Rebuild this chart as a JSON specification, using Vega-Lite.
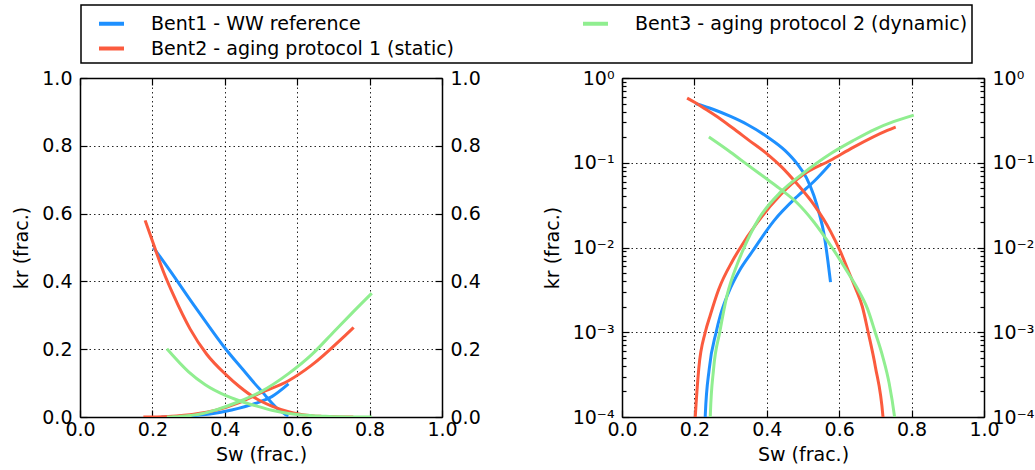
{
  "$schema": "https://vega.github.io/schema/vega-lite/v6.json",
  "background": "white",
  "padding": {"left": 12, "top": 4, "right": 2, "bottom": 2},
  "spacing": 180,
  "bounds": "flush",
  "resolve": {"scale": {"color": "independent"}},
  "datasets": {
    "kr": [
      {"bent": "Bent1 - WW reference", "phase": "o", "sw": 0.203, "kr": 0.50},
      {"bent": "Bent1 - WW reference", "phase": "o", "sw": 0.253, "kr": 0.425},
      {"bent": "Bent1 - WW reference", "phase": "o", "sw": 0.30, "kr": 0.352},
      {"bent": "Bent1 - WW reference", "phase": "o", "sw": 0.346, "kr": 0.283},
      {"bent": "Bent1 - WW reference", "phase": "o", "sw": 0.403, "kr": 0.20},
      {"bent": "Bent1 - WW reference", "phase": "o", "sw": 0.45, "kr": 0.14},
      {"bent": "Bent1 - WW reference", "phase": "o", "sw": 0.484, "kr": 0.097},
      {"bent": "Bent1 - WW reference", "phase": "o", "sw": 0.51, "kr": 0.066},
      {"bent": "Bent1 - WW reference", "phase": "o", "sw": 0.53, "kr": 0.041},
      {"bent": "Bent1 - WW reference", "phase": "o", "sw": 0.545, "kr": 0.025},
      {"bent": "Bent1 - WW reference", "phase": "o", "sw": 0.557, "kr": 0.0152},
      {"bent": "Bent1 - WW reference", "phase": "o", "sw": 0.567, "kr": 0.0079},
      {"bent": "Bent1 - WW reference", "phase": "o", "sw": 0.576, "kr": 0.0039},
      {"bent": "Bent1 - WW reference", "phase": "w", "sw": 0.225, "kr": 0.0000001},
      {"bent": "Bent1 - WW reference", "phase": "w", "sw": 0.230, "kr": 0.000105},
      {"bent": "Bent1 - WW reference", "phase": "w", "sw": 0.241, "kr": 0.00037},
      {"bent": "Bent1 - WW reference", "phase": "w", "sw": 0.26, "kr": 0.001},
      {"bent": "Bent1 - WW reference", "phase": "w", "sw": 0.272, "kr": 0.0016},
      {"bent": "Bent1 - WW reference", "phase": "w", "sw": 0.295, "kr": 0.003},
      {"bent": "Bent1 - WW reference", "phase": "w", "sw": 0.325, "kr": 0.0054},
      {"bent": "Bent1 - WW reference", "phase": "w", "sw": 0.359, "kr": 0.00885},
      {"bent": "Bent1 - WW reference", "phase": "w", "sw": 0.419, "kr": 0.0205},
      {"bent": "Bent1 - WW reference", "phase": "w", "sw": 0.484, "kr": 0.04},
      {"bent": "Bent1 - WW reference", "phase": "w", "sw": 0.53, "kr": 0.06},
      {"bent": "Bent1 - WW reference", "phase": "w", "sw": 0.576, "kr": 0.0975},
      {"bent": "Bent2 - aging protocol 1 (static)", "phase": "o", "sw": 0.18, "kr": 0.58},
      {"bent": "Bent2 - aging protocol 1 (static)", "phase": "o", "sw": 0.203, "kr": 0.51},
      {"bent": "Bent2 - aging protocol 1 (static)", "phase": "o", "sw": 0.23, "kr": 0.43},
      {"bent": "Bent2 - aging protocol 1 (static)", "phase": "o", "sw": 0.258, "kr": 0.36},
      {"bent": "Bent2 - aging protocol 1 (static)", "phase": "o", "sw": 0.304, "kr": 0.26},
      {"bent": "Bent2 - aging protocol 1 (static)", "phase": "o", "sw": 0.35, "kr": 0.185},
      {"bent": "Bent2 - aging protocol 1 (static)", "phase": "o", "sw": 0.403, "kr": 0.125},
      {"bent": "Bent2 - aging protocol 1 (static)", "phase": "o", "sw": 0.44, "kr": 0.09},
      {"bent": "Bent2 - aging protocol 1 (static)", "phase": "o", "sw": 0.484, "kr": 0.056},
      {"bent": "Bent2 - aging protocol 1 (static)", "phase": "o", "sw": 0.53, "kr": 0.032},
      {"bent": "Bent2 - aging protocol 1 (static)", "phase": "o", "sw": 0.576, "kr": 0.0155},
      {"bent": "Bent2 - aging protocol 1 (static)", "phase": "o", "sw": 0.604, "kr": 0.0088},
      {"bent": "Bent2 - aging protocol 1 (static)", "phase": "o", "sw": 0.626, "kr": 0.0052},
      {"bent": "Bent2 - aging protocol 1 (static)", "phase": "o", "sw": 0.645, "kr": 0.0033},
      {"bent": "Bent2 - aging protocol 1 (static)", "phase": "o", "sw": 0.664, "kr": 0.002},
      {"bent": "Bent2 - aging protocol 1 (static)", "phase": "o", "sw": 0.68, "kr": 0.001},
      {"bent": "Bent2 - aging protocol 1 (static)", "phase": "o", "sw": 0.70, "kr": 0.00039},
      {"bent": "Bent2 - aging protocol 1 (static)", "phase": "o", "sw": 0.721, "kr": 0.0001},
      {"bent": "Bent2 - aging protocol 1 (static)", "phase": "o", "sw": 0.755, "kr": 0.0000001},
      {"bent": "Bent2 - aging protocol 1 (static)", "phase": "w", "sw": 0.175, "kr": 0.0000001},
      {"bent": "Bent2 - aging protocol 1 (static)", "phase": "w", "sw": 0.2027, "kr": 0.000105},
      {"bent": "Bent2 - aging protocol 1 (static)", "phase": "w", "sw": 0.212, "kr": 0.00037},
      {"bent": "Bent2 - aging protocol 1 (static)", "phase": "w", "sw": 0.23, "kr": 0.001},
      {"bent": "Bent2 - aging protocol 1 (static)", "phase": "w", "sw": 0.244, "kr": 0.0016},
      {"bent": "Bent2 - aging protocol 1 (static)", "phase": "w", "sw": 0.267, "kr": 0.0032},
      {"bent": "Bent2 - aging protocol 1 (static)", "phase": "w", "sw": 0.304, "kr": 0.0068},
      {"bent": "Bent2 - aging protocol 1 (static)", "phase": "w", "sw": 0.3226, "kr": 0.0093},
      {"bent": "Bent2 - aging protocol 1 (static)", "phase": "w", "sw": 0.373, "kr": 0.0195},
      {"bent": "Bent2 - aging protocol 1 (static)", "phase": "w", "sw": 0.438, "kr": 0.042},
      {"bent": "Bent2 - aging protocol 1 (static)", "phase": "w", "sw": 0.50, "kr": 0.072},
      {"bent": "Bent2 - aging protocol 1 (static)", "phase": "w", "sw": 0.576, "kr": 0.107},
      {"bent": "Bent2 - aging protocol 1 (static)", "phase": "w", "sw": 0.64, "kr": 0.153},
      {"bent": "Bent2 - aging protocol 1 (static)", "phase": "w", "sw": 0.733, "kr": 0.241},
      {"bent": "Bent2 - aging protocol 1 (static)", "phase": "w", "sw": 0.756, "kr": 0.264},
      {"bent": "Bent3 - aging protocol 2 (dynamic)", "phase": "o", "sw": 0.24, "kr": 0.201},
      {"bent": "Bent3 - aging protocol 2 (dynamic)", "phase": "o", "sw": 0.30, "kr": 0.133},
      {"bent": "Bent3 - aging protocol 2 (dynamic)", "phase": "o", "sw": 0.346, "kr": 0.095},
      {"bent": "Bent3 - aging protocol 2 (dynamic)", "phase": "o", "sw": 0.403, "kr": 0.063},
      {"bent": "Bent3 - aging protocol 2 (dynamic)", "phase": "o", "sw": 0.44, "kr": 0.048},
      {"bent": "Bent3 - aging protocol 2 (dynamic)", "phase": "o", "sw": 0.484, "kr": 0.0335},
      {"bent": "Bent3 - aging protocol 2 (dynamic)", "phase": "o", "sw": 0.53, "kr": 0.02},
      {"bent": "Bent3 - aging protocol 2 (dynamic)", "phase": "o", "sw": 0.576, "kr": 0.0106},
      {"bent": "Bent3 - aging protocol 2 (dynamic)", "phase": "o", "sw": 0.60, "kr": 0.0074},
      {"bent": "Bent3 - aging protocol 2 (dynamic)", "phase": "o", "sw": 0.626, "kr": 0.0049},
      {"bent": "Bent3 - aging protocol 2 (dynamic)", "phase": "o", "sw": 0.65, "kr": 0.0033},
      {"bent": "Bent3 - aging protocol 2 (dynamic)", "phase": "o", "sw": 0.678, "kr": 0.0019},
      {"bent": "Bent3 - aging protocol 2 (dynamic)", "phase": "o", "sw": 0.70, "kr": 0.00098},
      {"bent": "Bent3 - aging protocol 2 (dynamic)", "phase": "o", "sw": 0.72, "kr": 0.00052},
      {"bent": "Bent3 - aging protocol 2 (dynamic)", "phase": "o", "sw": 0.738, "kr": 0.00025},
      {"bent": "Bent3 - aging protocol 2 (dynamic)", "phase": "o", "sw": 0.753, "kr": 0.0001},
      {"bent": "Bent3 - aging protocol 2 (dynamic)", "phase": "o", "sw": 0.806, "kr": 0.0000001},
      {"bent": "Bent3 - aging protocol 2 (dynamic)", "phase": "w", "sw": 0.24, "kr": 0.0000001},
      {"bent": "Bent3 - aging protocol 2 (dynamic)", "phase": "w", "sw": 0.244, "kr": 0.000105},
      {"bent": "Bent3 - aging protocol 2 (dynamic)", "phase": "w", "sw": 0.253, "kr": 0.00037},
      {"bent": "Bent3 - aging protocol 2 (dynamic)", "phase": "w", "sw": 0.27, "kr": 0.001},
      {"bent": "Bent3 - aging protocol 2 (dynamic)", "phase": "w", "sw": 0.29, "kr": 0.0027},
      {"bent": "Bent3 - aging protocol 2 (dynamic)", "phase": "w", "sw": 0.318, "kr": 0.0063},
      {"bent": "Bent3 - aging protocol 2 (dynamic)", "phase": "w", "sw": 0.332, "kr": 0.00885},
      {"bent": "Bent3 - aging protocol 2 (dynamic)", "phase": "w", "sw": 0.378, "kr": 0.0219},
      {"bent": "Bent3 - aging protocol 2 (dynamic)", "phase": "w", "sw": 0.438, "kr": 0.045},
      {"bent": "Bent3 - aging protocol 2 (dynamic)", "phase": "w", "sw": 0.50, "kr": 0.075},
      {"bent": "Bent3 - aging protocol 2 (dynamic)", "phase": "w", "sw": 0.576, "kr": 0.128},
      {"bent": "Bent3 - aging protocol 2 (dynamic)", "phase": "w", "sw": 0.64, "kr": 0.184},
      {"bent": "Bent3 - aging protocol 2 (dynamic)", "phase": "w", "sw": 0.70, "kr": 0.25},
      {"bent": "Bent3 - aging protocol 2 (dynamic)", "phase": "w", "sw": 0.75, "kr": 0.305},
      {"bent": "Bent3 - aging protocol 2 (dynamic)", "phase": "w", "sw": 0.806, "kr": 0.365}
    ]
  },
  "data": {"name": "kr"},
  "hconcat": [
    {
      "width": 362,
      "height": 339,
      "layer": [
        {
          "mark": {"type": "line", "strokeWidth": 3, "clip": true, "interpolate": "monotone"},
          "encoding": {
            "x": {"field": "sw", "type": "quantitative", "scale": {"domain": [0, 1], "nice": false},
              "axis": {"orient": "bottom", "title": "Sw (frac.)", "values": [0, 0.2, 0.4, 0.6, 0.8, 1], "format": ".1f", "grid": true}},
            "y": {"field": "kr", "type": "quantitative", "scale": {"domain": [0, 1], "nice": false},
              "axis": {"orient": "left", "title": "kr (frac.)", "values": [0, 0.2, 0.4, 0.6, 0.8, 1], "format": ".1f", "grid": true}},
            "color": {"field": "bent", "type": "nominal",
              "scale": {"domain": ["Bent1 - WW reference", "Bent2 - aging protocol 1 (static)", "Bent3 - aging protocol 2 (dynamic)"], "range": ["#1E90FF", "#FB5B3E", "#90EE90"]},
              "legend": {"orient": "none", "legendX": 1, "legendY": -73, "columns": 2, "columnPadding": 114, "rowPadding": 0, "padding": 4, "symbolOffset": 12, "labelOffset": 25, "gridAlign": "each", "title": null}},
            "detail": {"field": "phase"}
          }
        },
        {
          "mark": {"type": "point", "opacity": 0, "clip": true},
          "encoding": {
            "x": {"field": "sw", "type": "quantitative", "scale": {"domain": [0, 1], "nice": false},
              "axis": {"orient": "top", "title": null, "labels": false, "values": [0, 0.2, 0.4, 0.6, 0.8, 1], "grid": false}},
            "y": {"field": "kr", "type": "quantitative", "scale": {"domain": [0, 1], "nice": false},
              "axis": {"orient": "right", "title": null, "values": [0, 0.2, 0.4, 0.6, 0.8, 1], "format": ".1f", "grid": false}}
          }
        }
      ],
      "resolve": {"axis": {"x": "independent", "y": "independent"}}
    },
    {
      "width": 362,
      "height": 339,
      "layer": [
        {
          "mark": {"type": "line", "strokeWidth": 3, "clip": true, "interpolate": "monotone"},
          "encoding": {
            "x": {"field": "sw", "type": "quantitative", "scale": {"domain": [0, 1], "nice": false},
              "axis": {"orient": "bottom", "title": "Sw (frac.)", "values": [0, 0.2, 0.4, 0.6, 0.8, 1], "format": ".1f", "grid": true}},
            "y": {"field": "kr", "type": "quantitative", "scale": {"type": "log", "domain": [0.0001, 1], "nice": false},
              "axis": {"orient": "left", "title": "kr (frac.)", "values": [0.0001, 0.001, 0.01, 0.1, 1], "grid": true,
                "labelExpr": "datum.value > 0.5 ? '10⁰' : datum.value > 0.05 ? '10⁻¹' : datum.value > 0.005 ? '10⁻²' : datum.value > 0.0005 ? '10⁻³' : '10⁻⁴'"}},
            "color": {"field": "bent", "type": "nominal",
              "scale": {"domain": ["Bent1 - WW reference", "Bent2 - aging protocol 1 (static)", "Bent3 - aging protocol 2 (dynamic)"], "range": ["#1E90FF", "#FB5B3E", "#90EE90"]},
              "legend": null},
            "detail": {"field": "phase"}
          }
        },
        {
          "mark": {"type": "point", "opacity": 0, "clip": true},
          "encoding": {
            "x": {"field": "sw", "type": "quantitative", "scale": {"domain": [0, 1], "nice": false},
              "axis": {"orient": "top", "title": null, "labels": false, "values": [0, 0.2, 0.4, 0.6, 0.8, 1], "grid": false}},
            "y": {"field": "kr", "type": "quantitative", "scale": {"type": "log", "domain": [0.0001, 1], "nice": false},
              "axis": {"orient": "right", "title": null, "values": [0.0001, 0.001, 0.01, 0.1, 1], "grid": false,
                "labelExpr": "datum.value > 0.5 ? '10⁰' : datum.value > 0.05 ? '10⁻¹' : datum.value > 0.005 ? '10⁻²' : datum.value > 0.0005 ? '10⁻³' : '10⁻⁴'"}}
          }
        },
        {
          "mark": {"type": "point", "opacity": 0, "clip": true},
          "encoding": {
            "x": {"field": "sw", "type": "quantitative", "scale": {"domain": [0, 1], "nice": false}, "axis": null},
            "y": {"field": "kr", "type": "quantitative", "scale": {"type": "log", "domain": [0.0001, 1], "nice": false},
              "axis": {"orient": "left", "title": null, "labels": false, "domain": false, "grid": false, "tickSize": -4,
                "values": [0.0002, 0.0003, 0.0004, 0.0005, 0.0006, 0.0007, 0.0008, 0.0009, 0.002, 0.003, 0.004, 0.005, 0.006, 0.007, 0.008, 0.009, 0.02, 0.03, 0.04, 0.05, 0.06, 0.07, 0.08, 0.09, 0.2, 0.3, 0.4, 0.5, 0.6, 0.7, 0.8, 0.9]}}
          }
        },
        {
          "mark": {"type": "point", "opacity": 0, "clip": true},
          "encoding": {
            "x": {"field": "sw", "type": "quantitative", "scale": {"domain": [0, 1], "nice": false}, "axis": null},
            "y": {"field": "kr", "type": "quantitative", "scale": {"type": "log", "domain": [0.0001, 1], "nice": false},
              "axis": {"orient": "right", "title": null, "labels": false, "domain": false, "grid": false, "tickSize": -4,
                "values": [0.0002, 0.0003, 0.0004, 0.0005, 0.0006, 0.0007, 0.0008, 0.0009, 0.002, 0.003, 0.004, 0.005, 0.006, 0.007, 0.008, 0.009, 0.02, 0.03, 0.04, 0.05, 0.06, 0.07, 0.08, 0.09, 0.2, 0.3, 0.4, 0.5, 0.6, 0.7, 0.8, 0.9]}}
          }
        }
      ],
      "resolve": {"axis": {"x": "independent", "y": "independent"}}
    }
  ],
  "config": {
    "view": {"stroke": null},
    "font": "DejaVu Sans",
    "axis": {
      "labelFont": "DejaVu Sans", "labelFontSize": 19, "labelColor": "#000",
      "titleFont": "DejaVu Sans", "titleFontSize": 19, "titleFontWeight": "normal", "titleColor": "#000", "titlePadding": 10,
      "domainColor": "#000", "domainWidth": 1.5,
      "tickColor": "#000", "tickWidth": 1.2, "tickSize": -7, "labelPadding": 15,
      "gridColor": "#000", "gridDash": [1.5, 3], "gridWidth": 1, "gridOpacity": 0.85,
      "labelOverlap": false, "labelFlush": false
    },
    "axisX": {"labelPadding": 10, "titlePadding": 6},
    "legend": {
      "strokeColor": "#000", "strokeWidth": 1.5, "fillColor": "white",
      "symbolType": "stroke", "symbolSize": 625, "symbolStrokeWidth": 4,
      "labelFont": "DejaVu Sans", "labelFontSize": 19, "labelColor": "#000", "labelLimit": 0
    }
  }
}
